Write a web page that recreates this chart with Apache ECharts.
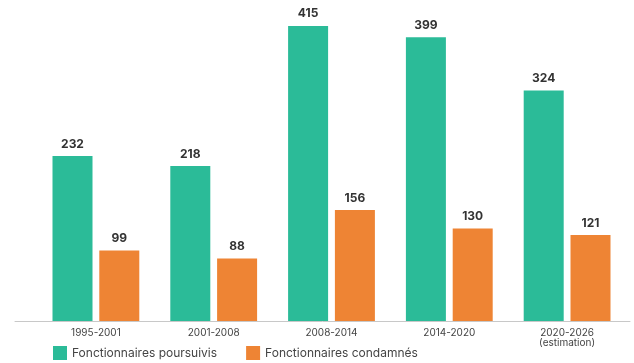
<!DOCTYPE html>
<html><head><meta charset="utf-8">
<script src="https://cdn.jsdelivr.net/npm/echarts@6/dist/echarts.min.js"></script>
<style>html,body{margin:0;padding:0;background:#fff}#c{width:634px;height:363px}</style>
</head><body><div id="c"></div>
<script>
const categories = ['1995-2001', '2001-2008', '2008-2014', '2014-2020', '2020-2026\n(estimation)'];
const poursuivis = [232, 218, 415, 399, 324];
const condamnes = [99, 88, 156, 130, 121];
const seriesNames = ['Fonctionnaires poursuivis', 'Fonctionnaires condamnés'];

const chart = echarts.init(document.getElementById('c'));
const font = 'Inter, "Open Sans", sans-serif';
chart.setOption({
  animation: false,
  textStyle: { fontFamily: font },
  legend: {
    left: 48, top: 341, itemWidth: 14, itemHeight: 14, itemGap: 29,
    icon: 'rect',
    textStyle: { fontSize: 12, color: '#444', fontFamily: font }
  },
  grid: [
    { left: 37, right: 8, top: 1, bottom: 42 },
    { left: 15, right: 4, top: 1, bottom: 42 }
  ],
  xAxis: [
    {
      type: 'category', data: categories, gridIndex: 0,
      axisLine: { show: false }, axisTick: { show: false },
      axisLabel: { fontSize: 10, color: '#444', lineHeight: 10, margin: 7, fontFamily: font }
    },
    {
      type: 'value', gridIndex: 1, min: 0, max: 1,
      axisLine: { show: true, lineStyle: { color: '#c8c8c8', width: 1 } },
      axisTick: { show: false }, axisLabel: { show: false }, splitLine: { show: false }
    }
  ],
  yAxis: [
    { type: 'value', min: 0, max: 450, show: false, gridIndex: 0 },
    { type: 'value', min: 0, max: 1, show: false, gridIndex: 1 }
  ],
  series: [
    {
      name: seriesNames[0], type: 'bar', data: poursuivis, barWidth: 40, barGap: '17%',
      itemStyle: { color: '#2bbb98' },
      label: { show: true, position: 'top', distance: 6, fontSize: 12, fontWeight: 'bold', color: '#333', fontFamily: font }
    },
    {
      name: seriesNames[1], type: 'bar', data: condamnes, barWidth: 40, barGap: '17%',
      itemStyle: { color: '#ee8434' },
      label: { show: true, position: 'top', distance: 6, fontSize: 12, fontWeight: 'bold', color: '#333', fontFamily: font }
    }
  ]
});
</script></body></html>
